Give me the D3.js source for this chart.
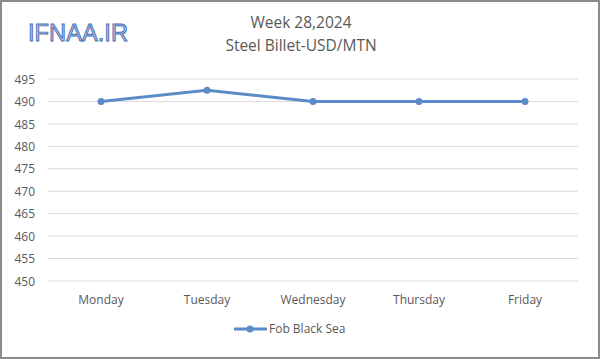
<!DOCTYPE html>
<html><head><meta charset="utf-8">
<script src="https://cdn.jsdelivr.net/npm/d3@7"></script>
<style>body{margin:0;background:#fff}svg{display:block}</style>
</head><body>
<script>
const categories = ["Monday","Tuesday","Wednesday","Thursday","Friday"];
const seriesName = "Fob Black Sea";
const values = [490, 492.5, 490, 490, 490];
const yTicks = [450,455,460,465,470,475,480,485,490,495];
const titleLines = ["Week 28,2024","Steel Billet-USD/MTN"];

const W = 600, H = 359;
const svg = d3.select("body").append("svg").attr("width", W).attr("height", H);
svg.append("rect").attr("x",1).attr("y",1).attr("width",W-2).attr("height",H-2)
  .attr("fill","#fff").attr("stroke","#8c8c8c").attr("stroke-width",2);

const font = "'Open Sans', 'Noto Sans', 'DejaVu Sans', sans-serif";
const x = d3.scaleBand().domain(categories).range([48, 578]);
const y = d3.scaleLinear().domain([450, 495]).range([281, 79]);

// logo
svg.append("text").attr("x", 28).attr("y", 41).text("IFNAA.IR")
  .attr("font-family", "'Liberation Sans', Arial, sans-serif").attr("font-size", 24)
  .attr("textLength", 100).attr("lengthAdjust","spacingAndGlyphs")
  .attr("fill", "#a9c2ec").attr("stroke", "#4a6fb0").attr("stroke-width", 0.9);

// title
titleLines.forEach((t,i) => svg.append("text").attr("x", 301).attr("y", 28 + i*23)
  .attr("text-anchor","middle").attr("font-family", font).attr("font-size", 15.5)
  .attr("fill","#595959").text(t));

// grid
svg.append("g").selectAll("line").data(yTicks).join("line")
  .attr("x1", 48).attr("x2", 578).attr("y1", d=>y(d)).attr("y2", d=>y(d))
  .attr("stroke","#d9d9d9").attr("stroke-width",1);

// y axis labels
const yAxis = d3.axisLeft(y).tickValues(yTicks).tickSize(0).tickPadding(0);
const ya = svg.append("g").attr("transform","translate(35,0)").call(yAxis);
ya.select(".domain").remove();
ya.selectAll("text").attr("font-family", font).attr("font-size", 12).attr("fill","#595959").attr("dy","0.35em");

// x axis labels
const xAxis = d3.axisBottom(x).tickSize(0).tickPadding(0);
const xa = svg.append("g").attr("transform","translate(0,295)").call(xAxis);
xa.select(".domain").remove();
xa.selectAll("text").attr("font-family", font).attr("font-size", 12).attr("fill","#595959").attr("dy","0.71em");

// line
const color = "#5b8cc8";
const cx = d => x(d) + x.bandwidth()/2;
const line = d3.line().x((d,i)=>cx(categories[i])).y(d=>y(d));
svg.append("path").datum(values).attr("d", line).attr("fill","none")
  .attr("stroke",color).attr("stroke-width",3);
svg.selectAll("circle.pt").data(values).join("circle")
  .attr("cx",(d,i)=>cx(categories[i])).attr("cy", d=>y(d)).attr("r",3.5).attr("fill",color);

// legend
svg.append("line").attr("x1",234).attr("x2",267).attr("y1",329).attr("y2",329)
  .attr("stroke",color).attr("stroke-width",3);
svg.append("circle").attr("cx",250).attr("cy",329).attr("r",3.5).attr("fill",color);
svg.append("text").attr("x",269).attr("y",329).attr("dy","0.35em").attr("font-family",font)
  .attr("font-size",12).attr("fill","#595959").text(seriesName);
</script>
</body></html>
